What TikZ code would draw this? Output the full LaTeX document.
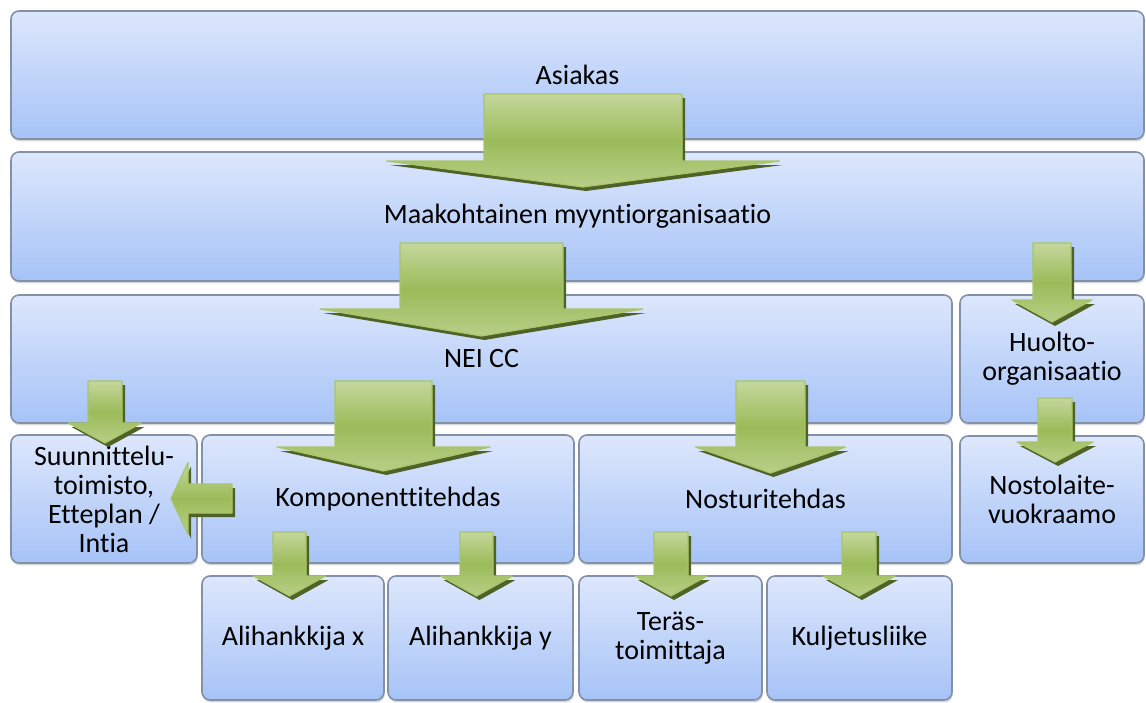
\documentclass[tikz,border=0pt]{standalone}
\usepackage{fontspec}
\setmainfont{Carlito}[Ligatures=NoCommon]
\usetikzlibrary{shadows}
\definecolor{boxtop}{HTML}{DDE7FC}
\definecolor{boxbottom}{HTML}{A6C3F7}
\definecolor{boxline}{HTML}{8291A8}
\definecolor{arrowlight}{HTML}{C4D79C}
\definecolor{arrowmid}{HTML}{9BBB59}
\definecolor{arrowline}{HTML}{A8C56A}
\definecolor{arrowdark}{HTML}{4F6228}
\tikzset{
	box/.style={draw=boxline,line width=0.8pt,rounded corners=4pt,top color=boxtop,bottom color=boxbottom,
		inner sep=0pt,align=center,minimum height=64pt,font=\fontsize{14}{14.5}\selectfont,
		drop shadow={shadow xshift=0.4pt,shadow yshift=-1.2pt,opacity=0.3}},
	greenbody/.style={draw=arrowline,line width=0.6pt,top color=arrowlight,bottom color=arrowlight!70!arrowmid,middle color=arrowmid},
	greenshadow/.style={fill=arrowdark,shift={(3,4)}}
}
% #1 centre x, #2 top, #3 head base, #4 tip, #5 half shaft, #6 half head
\newcommand{\greenarrow}[6]{%
	\fill[greenshadow] (#1-#5,#2) -- (#1+#5,#2) -- (#1+#5,#3) -- (#1+#6,#3) -- (#1,#4) -- (#1-#6,#3) -- (#1-#5,#3) -- cycle;
	\draw[greenbody] (#1-#5,#2) -- (#1+#5,#2) -- (#1+#5,#3) -- (#1+#6,#3) -- (#1,#4) -- (#1-#6,#3) -- (#1-#5,#3) -- cycle;
}
% #1 centre y, #2 start, #3 head base, #4 tip, #5 half shaft, #6 half head
\newcommand{\greenarrowleft}[6]{%
	\fill[greenshadow] (#2,#1-#5) -- (#2,#1+#5) -- (#3,#1+#5) -- (#3,#1+#6) -- (#4,#1) -- (#3,#1-#6) -- (#3,#1-#5) -- cycle;
	\draw[greenbody] (#2,#1-#5) -- (#2,#1+#5) -- (#3,#1+#5) -- (#3,#1+#6) -- (#4,#1) -- (#3,#1-#6) -- (#3,#1-#5) -- cycle;
}
\begin{document}
\begin{tikzpicture}[line cap=round,line join=round,x=0.5pt,y=-0.5pt]
		\useasboundingbox (0,0) rectangle (1146,702);
		%%%%%%%%%%%%%%% B O X E S %%%%%%%%%%%%%%%%
		%row 0
		\node[box,minimum width=566.5pt] (asiakas) at (577.5,75) {Asiakas};
		%row 1
		\node[box,minimum width=566.5pt,minimum height=64.5pt] (maak) at (577.5,216.5) {Maakohtainen myyntiorganisaatio};
		%row 2
		\node[box,minimum width=470.5pt] (nei) at (481.5,359) {NEI CC};
		\node[box,minimum width=92pt] (huolto) at (1052,359) {Huolto-\\organisaatio};
		%row 3
		\node[box,minimum width=93pt] (suun) at (104,499) {Suunnittelu-\\toimisto,\\Etteplan /\\Intia};
		\node[box,minimum width=186pt] (komp) at (388,499) {Komponenttitehdas};
		\node[box,minimum width=186.5pt] (nost) at (765.5,499) {Nosturitehdas};
		\node[box,minimum width=92pt,minimum height=63.5pt] (vuokra) at (1052,499.5) {Nostolaite-\\vuokraamo};
		%row 4
		\node[box,minimum width=91pt,minimum height=62pt] (alihx) at (293,638) {Alihankkija x};
		\node[box,minimum width=92.5pt,minimum height=62pt] (alihy) at (480.5,638) {Alihankkija y};
		\node[box,minimum width=91.5pt,minimum height=62pt] (teras) at (670.5,638) {Teräs-\\toimittaja};
		\node[box,minimum width=92.5pt,minimum height=62pt] (kulj) at (859.5,638) {Kuljetusliike};
		%%%%%%%%%%%%%%% A R R O W S %%%%%%%%%%%%%%%%
		%asiakas - maak
		\greenarrow{583}{94}{161}{187}{99}{196.5}
		%maak - nei
		\greenarrow{481.5}{243}{309}{336}{81.5}{161.5}
		%maak - huolto
		\greenarrow{1052}{243}{300}{322}{19}{40}
		%huolto - vuokra
		\greenarrow{1055}{398}{442}{462}{17}{38}
		%nei - suun, komp, nost
		\greenarrow{105}{381}{423}{443}{17}{36.5}
		\greenarrow{383.5}{381}{447}{471}{48.5}{106.5}
		\greenarrow{770.5}{381}{447}{473}{34.5}{75}
		%komp - suun
		\greenarrowleft{498.5}{232}{188}{171}{14.5}{36}
		%komp - alihx, alihy
		\greenarrow{289.5}{532}{576}{596}{16.5}{36}
		\greenarrow{476.5}{532}{576}{596}{16.5}{36}
		%nost - teras, kulj
		\greenarrow{671}{532}{576}{596}{17}{36}
		\greenarrow{859}{532}{576}{596}{17}{36}
	\end{tikzpicture}
\end{document}
